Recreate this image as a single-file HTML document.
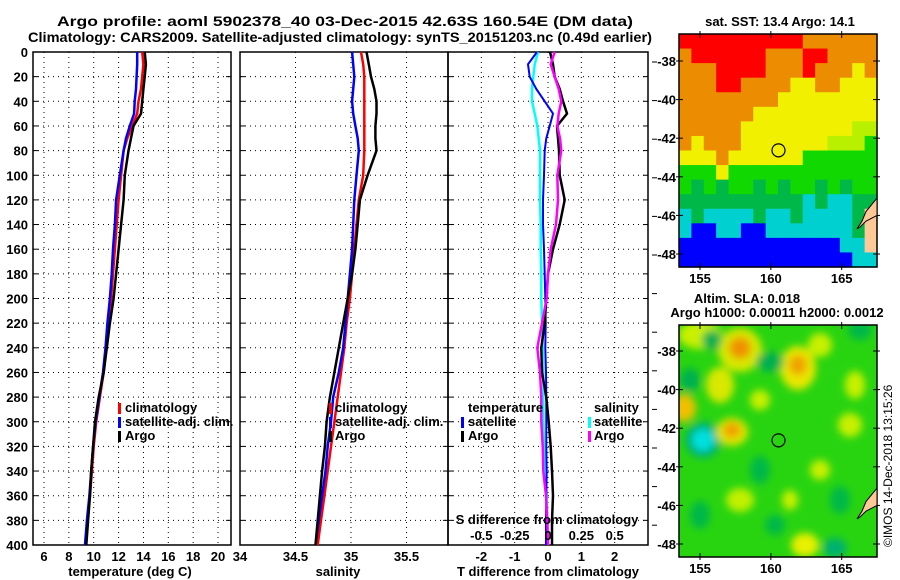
<!DOCTYPE html>
<html><head><meta charset="utf-8"><style>
html,body{margin:0;padding:0;background:#fff;}
svg{display:block;font-family:"Liberation Sans",Arial,sans-serif;font-weight:bold;}
</style></head><body>
<svg id="fig" width="900" height="580" viewBox="0 0 900 580">
<rect x="0" y="0" width="900" height="580" fill="#fff"/>
<text x="345" y="26" text-anchor="middle" font-size="14" textLength="576" lengthAdjust="spacingAndGlyphs">Argo profile: aoml 5902378_40 03-Dec-2015 42.63S 160.54E (DM data)</text>
<text x="340" y="42" text-anchor="middle" font-size="14" textLength="624" lengthAdjust="spacingAndGlyphs">Climatology: CARS2009. Satellite-adjusted climatology: synTS_20151203.nc (0.49d earlier)</text>
<g id="plots"></g>
<g id="maps"></g>
</svg>
<script>
const depths = [0,10,20,30,40,50,60,70,80,100,120,140,160,180,200,220,240,260,280,300,320,340,360,380,400];
const tClim = [13.9,14.0,13.9,13.8,13.6,13.5,13.1,12.7,12.4,12.2,12.0,11.85,11.7,11.55,11.4,11.2,11.0,10.8,10.5,10.2,10.0,9.85,9.7,9.5,9.35];
const tSat  = [13.5,13.5,13.45,13.4,13.3,13.25,12.9,12.6,12.4,12.1,11.8,11.7,11.55,11.45,11.3,11.1,10.95,10.75,10.45,10.15,9.95,9.8,9.65,9.45,9.3];
const tArgo = [14.1,14.2,14.1,14.0,13.9,13.8,13.2,13.0,12.8,12.5,12.4,12.2,12.0,11.8,11.6,11.3,11.05,10.8,10.4,10.1,9.95,9.8,9.7,9.55,9.4];
const sClim = [35.09,35.11,35.12,35.12,35.12,35.12,35.12,35.12,35.12,35.11,35.07,35.05,35.03,35.01,34.99,34.96,34.94,34.91,34.88,34.85,34.82,34.79,34.76,34.73,34.70];
const sSat  = [35.01,35.02,35.03,35.02,35.01,35.02,35.04,35.06,35.07,35.05,35.03,35.02,35.01,34.99,34.97,34.95,34.93,34.89,34.84,34.82,34.79,34.77,34.74,34.71,34.68];
const sArgo = [35.14,35.16,35.18,35.21,35.23,35.23,35.22,35.22,35.23,35.15,35.08,35.06,35.04,35.01,34.97,34.93,34.89,34.85,34.81,34.78,34.765,34.74,34.72,34.70,34.68];
const dTSat  = [-0.33,-0.6,-0.55,-0.35,-0.1,0.15,0.05,-0.05,-0.1,-0.12,-0.15,-0.15,-0.12,-0.1,-0.08,-0.07,-0.08,-0.06,-0.05,-0.05,-0.05,-0.04,-0.05,-0.06,-0.06];
const dTArgo = [0.06,0.15,0.2,0.35,0.45,0.57,0.27,0.3,0.33,0.35,0.5,0.35,0.15,0.0,-0.05,-0.1,-0.2,-0.18,-0.05,0.02,0.08,0.12,0.15,0.12,0.12];
const dSSat  = [-0.075,-0.1,-0.11,-0.12,-0.12,-0.1,-0.08,-0.07,-0.06,-0.06,-0.06,-0.055,-0.055,-0.05,-0.05,-0.045,-0.04,-0.035,-0.035,-0.035,-0.03,-0.02,-0.01,-0.005,0.0];
const dSArgo = [0.05,0.02,0.05,0.08,0.1,0.08,0.07,0.09,0.1,0.07,0.075,0.06,0.02,0.0,-0.01,-0.045,-0.08,-0.06,-0.05,-0.05,-0.04,-0.035,-0.015,-0.005,0.0];
const depthTicks = [0,20,40,60,80,100,120,140,160,180,200,220,240,260,280,300,320,340,360,380,400];
const tTicks = [6,8,10,12,14,16,18,20];
const sTicks = [34,34.5,35,35.5];
const sTickLabels = ["34","34.5","35","35.5"];
const dTTicks = [-2,-1,0,1,2];
const dSTicks = [-0.5,-0.25,0,0.25,0.5];
const dSTickLabels = ["-0.5","-0.25","0","0.25","0.5"];
const sstGrid = [
"RRRRRRRRRROOOOOO",
"ORRRRRROOORROOOO",
"OOORRRROOOROOOYO",
"OOORROOOOYYOOYYY",
"OOOOOOOOYYYYYYYY",
"OOOOOOYYYYYYYYYY",
"OOOOOYYYYYYYYYyy",
"OYOOOYYYYYYYyyyG",
"YYYOYYYYYYGGGGGG",
"GGGYGGGGGGGGGGGG",
"GgGgGGgGgGGgGgGG",
"ggggggggggCgCCgg",
"CgCCCCgCCgCCCCgP",
"CBBCCBBCCCCCCCgP",
"BBBBBBBBBBBBBCCP",
"BBBBBBBBBBBBBBCC"];
const lonTicks = [155,160,165];
const latTicks = [-38,-40,-42,-44,-46,-48];
const argoLon = 160.54, argoLat = -42.63;

const NS="http://www.w3.org/2000/svg";
const plots=document.getElementById('plots');
const maps=document.getElementById('maps');
function mk(parent,tag,attrs,text){const e=document.createElementNS(NS,tag);for(const k in attrs)e.setAttribute(k,attrs[k]);if(text!==undefined)e.textContent=text;parent.appendChild(e);return e;}
const Y0=52,Y1=545;
const yD=d=>Y0+(d/400)*(Y1-Y0);
const xT=t=>44+(t-6)*12.43;
const xS=s=>240+(s-34)*111;
const xDT=v=>548+v*33.33;
const xDS=v=>548+v*133.33;

function panel(x0,x1,name,gridXs){
  const g=mk(plots,'g',{});
  
  
  depthTicks.forEach((d,i)=>{ if(i>0&&i<depthTicks.length-1){
    const l=mk(g,'line',{x1:x0,x2:x1,y1:yD(d),y2:yD(d),stroke:'#000','stroke-width':1,'stroke-dasharray':'1 4'});
    
    mk(g,'line',{x1:x0,x2:x0+5,y1:yD(d),y2:yD(d),stroke:'#000','stroke-width':1});
    mk(g,'line',{x1:x1-5,x2:x1,y1:yD(d),y2:yD(d),stroke:'#000','stroke-width':1});
  }});
  gridXs.forEach(x=>{
    const l=mk(g,'line',{x1:x,x2:x,y1:Y0,y2:Y1,stroke:'#000','stroke-width':1,'stroke-dasharray':'1 4'});
    
  });
  const f=mk(g,'rect',{x:x0,y:Y0,width:x1-x0,height:Y1-Y0,fill:'none',stroke:'#000','stroke-width':1.5});
  
  return g;
}
function line(g,xs,xf,color,name,w){
  const pts=depths.map((d,i)=>xf(xs[i]).toFixed(1)+','+yD(d).toFixed(1)).join(' ');
  const p=mk(g,'polyline',{points:pts,fill:'none',stroke:color,'stroke-width':w||2.5});
  
  
}
function txt(parent,x,y,s,name,opts){
  const a=Object.assign({x:x,y:y,'font-size':13},opts||{});
  const t=mk(parent,'text',a,s);
  
  
  return t;
}
function legendMark(g,x,y,color){mk(g,'rect',{x:x,y:y-4,width:3,height:11,fill:color});}

depthTicks.forEach(d=>{txt(plots,28,yD(d)+5,String(d),'depth-tick-label',{'text-anchor':'end'});});

const p1=panel(33,231,'temperature-panel',tTicks.map(xT));
line(p1,tClim,xT,'#f00','climatology-temperature-line');
line(p1,tSat,xT,'#00f','satellite-temperature-line');
line(p1,tArgo,xT,'#000','argo-temperature-line');
tTicks.forEach(t=>txt(plots,xT(t),561,String(t),'temperature-tick-label',{'text-anchor':'middle'}));
txt(plots,130,576,'temperature (deg C)','x-axis-title-temperature',{'text-anchor':'middle'});
legendMark(p1,118,407,'#f00');txt(p1,125,412,'climatology','legend-entry-climatology');
legendMark(p1,118,421,'#00f');txt(p1,125,426,'satellite-adj. clim.','legend-entry-satellite');
legendMark(p1,118,435,'#000');txt(p1,125,440,'Argo','legend-entry-argo');

const p2=panel(240,448,'salinity-panel',[34.5,35,35.5].map(xS));
line(p2,sClim,xS,'#f00','climatology-salinity-line');
line(p2,sSat,xS,'#00f','satellite-salinity-line');
line(p2,sArgo,xS,'#000','argo-salinity-line');
sTicks.forEach((s,i)=>txt(plots,xS(s),561,sTickLabels[i],'salinity-tick-label',{'text-anchor':'middle'}));
txt(plots,338,576,'salinity','x-axis-title-salinity',{'text-anchor':'middle'});
legendMark(p2,329,407,'#f00');txt(p2,335,412,'climatology','legend-entry-climatology');
legendMark(p2,329,421,'#00f');txt(p2,335,426,'satellite-adj. clim.','legend-entry-satellite');
legendMark(p2,329,435,'#000');txt(p2,335,440,'Argo','legend-entry-argo');

const p3=panel(448,648,'difference-panel',dTTicks.map(xDT));
for(let y=62;y<=545;y+=38.6){mk(p3,'line',{x1:652,x2:657,y1:y,y2:y,stroke:'#000','stroke-width':1});}
line(p3,dSSat,xDS,'#0ff','satellite-salinity-diff-line',2.5);
line(p3,dTSat,xDT,'#00f','satellite-temperature-diff-line',2);
line(p3,dTArgo,xDT,'#000','argo-temperature-diff-line',2.5);
line(p3,dSArgo,xDS,'#f0f','argo-salinity-diff-line',2.5);
dTTicks.forEach(v=>txt(plots,xDT(v),561,String(v),'t-diff-tick-label',{'text-anchor':'middle'}));
txt(plots,548,576,'T difference from climatology','x-axis-title-t-diff',{'text-anchor':'middle'});
txt(p3,547,524,'S difference from climatology','s-diff-axis-title',{'text-anchor':'middle'});
dSTicks.forEach((v,i)=>txt(p3,xDS(v),540,dSTickLabels[i],'s-diff-tick-label',{'text-anchor':'middle'}));
txt(p3,468,412,'temperature','legend-title-temperature');
legendMark(p3,461,421,'#00f');txt(p3,468,426,'satellite','legend-entry-t-satellite');
legendMark(p3,461,435,'#000');txt(p3,468,440,'Argo','legend-entry-t-argo');
txt(p3,594,412,'salinity','legend-title-salinity');
legendMark(p3,588,421,'#0ff');txt(p3,594,426,'satellite','legend-entry-s-satellite');
legendMark(p3,588,435,'#f0f');txt(p3,594,440,'Argo','legend-entry-s-argo');

const MX0=679,MX1=877;
const lonX=l=>700+(l-155)*14.17;
function mapFrame(g,top,bot,lat38,lat48){
  const latY=l=>lat38+(-38-l)/10*(lat48-lat38);
  lonTicks.forEach(l=>{mk(g,'line',{x1:lonX(l),x2:lonX(l),y1:top-3,y2:top+4,stroke:'#000'});mk(g,'line',{x1:lonX(l),x2:lonX(l),y1:bot-4,y2:bot+3,stroke:'#000'});
    txt(g,lonX(l),bot+16,String(l),'longitude-tick-label',{'text-anchor':'middle'});});
  latTicks.forEach(l=>{mk(g,'line',{x1:MX0-3,x2:MX0+4,y1:latY(l),y2:latY(l),stroke:'#000'});mk(g,'line',{x1:MX1-4,x2:MX1+3,y1:latY(l),y2:latY(l),stroke:'#000'});
    txt(g,676,latY(l)+5,String(l),'latitude-tick-label',{'text-anchor':'end'});});
  const f=mk(g,'rect',{x:MX0,y:top,width:MX1-MX0,height:bot-top,fill:'none',stroke:'#000','stroke-width':1.5});
  
  const c=mk(g,'circle',{cx:lonX(argoLon),cy:latY(argoLat),r:6.5,fill:'none',stroke:'#000','stroke-width':1.2});
  
  const land=mk(g,'path',{d:`M${MX1} ${latY(-45.1)} L866 ${latY(-45.8)} L862 ${latY(-46.3)} L857 ${latY(-46.7)} L860 ${latY(-46.6)} L866 ${latY(-46.3)} L${MX1} ${latY(-46.0)} Z`,fill:'#ffc896',stroke:'#000','stroke-width':1});
  
}
const cmap={R:'#ff0000',O:'#ec8c00',Y:'#f0f000',y:'#b8f000',G:'#10d800',g:'#00b848',C:'#00d0d0',B:'#0000ff',P:'#ffc896'};
const m1=mk(maps,'g',{});


const T1=34,B1=267,cw=(MX1-MX0)/16,ch=(B1-T1)/16;
sstGrid.forEach((row,r)=>{[...row].forEach((c,k)=>{
  const cell=mk(m1,'rect',{x:MX0+k*cw,y:T1+r*ch,width:cw+0.6,height:ch+0.6,fill:cmap[c]});
  
  
});});
mapFrame(m1,T1,B1,61,254);
txt(maps,780,26,'sat. SST: 13.4 Argo: 14.1','sst-map-title',{'text-anchor':'middle'});

const m2=mk(maps,'g',{});


const T2=325,B2=557;
mk(m2,'defs',{}).innerHTML='<filter id="bl" x="-50%" y="-50%" width="200%" height="200%"><feGaussianBlur stdDeviation="4"/></filter><clipPath id="cp2"><rect x="679" y="325" width="198" height="232"/></clipPath>';
mk(m2,'rect',{x:MX0,y:T2,width:MX1-MX0,height:B2-T2,fill:'#28d410'});
const blobs=mk(m2,'g',{filter:'url(#bl)','clip-path':'url(#cp2)'});
[[700,335,22,14,'#c8f000'],[740,350,22,22,'#d8e800'],[740,348,11,11,'#f09000'],[798,368,18,22,'#e8e800'],[798,365,9,10,'#f0a000'],
 [720,385,14,18,'#d8e800'],[684,408,12,14,'#f0c000'],[703,440,18,18,'#00b070'],[703,440,11,11,'#00e0e0'],[732,432,16,14,'#e0e800'],[732,430,9,8,'#f0a000'],
 [770,362,14,10,'#00b050'],[855,385,10,14,'#c8f000'],[850,425,12,12,'#c8f000'],[820,345,12,12,'#c8f000'],[712,340,10,10,'#00b050'],[690,380,10,12,'#00b050'],
 [805,545,14,12,'#e8f000'],[835,548,12,10,'#00b070'],[760,470,10,14,'#00b848'],[790,500,8,10,'#c8f000'],[740,500,14,12,'#c0f000'],[820,470,10,10,'#c8f000'],
 [700,515,10,14,'#00b848'],[860,330,12,10,'#00b848'],[840,500,10,14,'#00b848'],[760,400,10,10,'#c8f000'],[775,525,10,10,'#00b848']].forEach(b=>{
  const e=mk(blobs,'ellipse',{cx:b[0],cy:b[1],rx:b[2],ry:b[3],fill:b[4]});
  
  
});
mapFrame(m2,T2,B2,351,544);
txt(maps,747,303,'Altim. SLA: 0.018','sla-map-title',{'text-anchor':'middle'});
txt(maps,777,317,'Argo h1000: 0.00011 h2000: 0.0012','sla-map-subtitle',{'text-anchor':'middle'});
txt(maps,0,0,'©IMOS 14-Dec-2018 13:15:26','imos-credit',{'font-size':12,'font-weight':'normal','transform':'translate(892,547) rotate(-90)'});
</script>
</body></html>
